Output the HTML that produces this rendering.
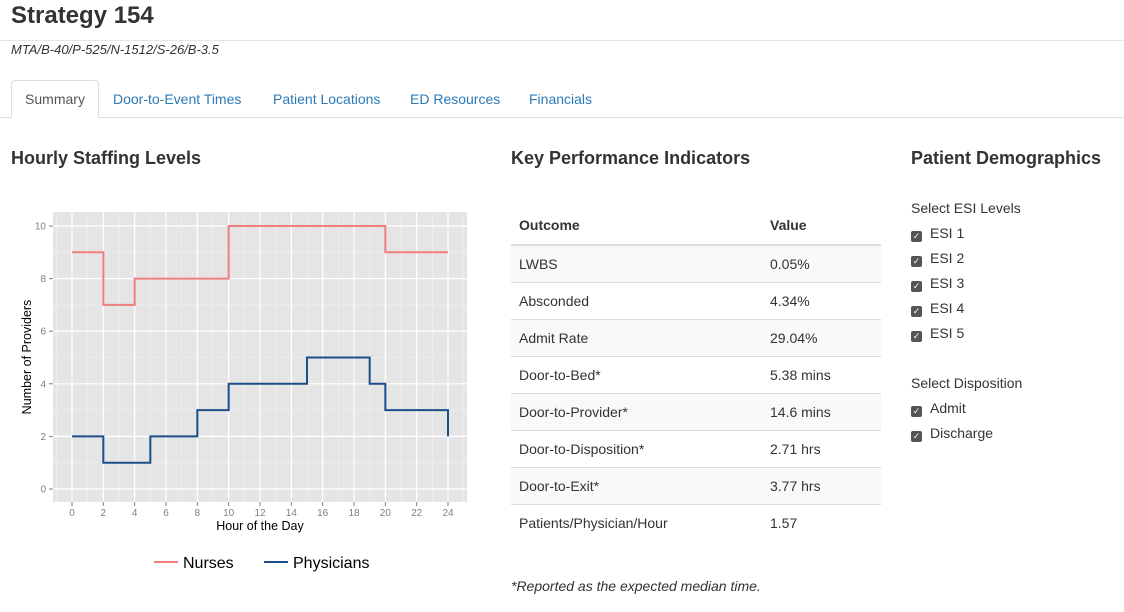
<!DOCTYPE html>
<html><head><meta charset="utf-8"><style>
body{margin:0;width:1124px;height:612px;background:#fff;font-family:"Liberation Sans",sans-serif;color:#333;position:relative;overflow:hidden}
.a{position:absolute}
.tab{position:absolute;top:81px;height:36px;line-height:36px;font-size:14px;color:#2a7ab8}
h3{position:absolute;margin:0;font-size:18px;font-weight:bold;color:#333}
.row{position:absolute;left:511px;width:370px;height:37px;border-top:1px solid #ddd;font-size:14px;line-height:37px}
.row span{position:absolute;left:8px}.row b{position:absolute;left:259px;font-weight:normal}
.cb{position:absolute;left:911px;font-size:14px}
.cb i{display:inline-block;width:11px;height:11px;background:#555;border-radius:2px;margin-right:8px;vertical-align:-1px;color:#fff;font-size:9px;line-height:11px;text-align:center;font-style:normal}
</style></head><body>
<div class="a" style="left:11px;top:2px;font-size:24px;font-weight:bold">Strategy 154</div>
<div class="a" style="left:0;top:40px;width:1124px;border-top:1px solid #e5e5e5"></div>
<div class="a" style="left:11px;top:42px;font-size:13px;font-style:italic">MTA/B-40/P-525/N-1512/S-26/B-3.5</div>
<div class="a" style="left:0;top:117px;width:1124px;border-top:1px solid #ddd"></div>
<div class="tab" style="left:11px;width:86px;text-align:center;color:#555;background:#fff;border:1px solid #ddd;border-bottom:1px solid #fff;border-radius:4px 4px 0 0;top:80px">Summary</div>
<div class="tab" style="left:113px">Door-to-Event Times</div>
<div class="tab" style="left:273px">Patient Locations</div>
<div class="tab" style="left:410px">ED Resources</div>
<div class="tab" style="left:529px">Financials</div>

<h3 style="left:11px;top:148px">Hourly Staffing Levels</h3>
<h3 style="left:511px;top:148px">Key Performance Indicators</h3>
<h3 style="left:911px;top:148px">Patient Demographics</h3>

<svg class="a" style="left:0;top:190px" width="480" height="400">
<g id="plot" transform="translate(0,-190)"></g>
</svg>
<script>
const hours=[0,1,2,3,4,5,6,7,8,9,10,11,12,13,14,15,16,17,18,19,20,21,22,23,24];
const nurses=[9,9,7,7,8,8,8,8,8,8,10,10,10,10,10,10,10,10,10,10,9,9,9,9,9];
const physicians=[2,2,1,1,1,2,2,2,3,3,4,4,4,4,4,5,5,5,5,4,3,3,3,3,2];
const xTicks=[0,2,4,6,8,10,12,14,16,18,20,22,24];
const yTicks=[0,2,4,6,8,10];
const NS="http://www.w3.org/2000/svg";
const g=document.getElementById('plot');
const X=h=>72+h*(448-72)/24, Y=v=>489-v*(489-226)/10;
const L=53,R=467,T=212,B=502;
function el(t,a,p){const e=document.createElementNS(NS,t);for(const k in a)e.setAttribute(k,a[k]);(p||g).appendChild(e);return e;}
const bg=el('rect',{x:L,y:T,width:R-L,height:B-T,fill:'#e5e5e5'});


for(let h=-1;h<=25;h+=2){const x=X(h);if(x>L&&x<R)el('line',{x1:x,x2:x,y1:T,y2:B,stroke:'#f2f2f2','stroke-width':0.6});}
for(let v=-1;v<=11;v+=2){const y=Y(v);if(y>T&&y<B)el('line',{x1:L,x2:R,y1:y,y2:y,stroke:'#f2f2f2','stroke-width':0.6});}
xTicks.forEach(h=>{const x=X(h);el('line',{x1:x,x2:x,y1:T,y2:B,stroke:'#fff','stroke-width':1.2});el('line',{x1:x,x2:x,y1:B,y2:B+4,stroke:'#7f7f7f'});
const t=el('text',{x:x,y:B+14,'text-anchor':'middle','font-size':10,fill:'#7f7f7f'});t.textContent=h;

});
yTicks.forEach(v=>{const y=Y(v);el('line',{x1:L,x2:R,y1:y,y2:y,stroke:'#fff','stroke-width':1.2});el('line',{x1:L-4,x2:L,y1:y,y2:y,stroke:'#7f7f7f'});
const t=el('text',{x:L-7,y:y+3.5,'text-anchor':'end','font-size':10,fill:'#7f7f7f'});t.textContent=v;

});
function step(vals,col,name){let d='M'+X(hours[0])+','+Y(vals[0]);for(let i=1;i<hours.length;i++){d+=' H'+X(hours[i])+' V'+Y(vals[i]);}
const p=el('path',{d:d,fill:'none',stroke:col,'stroke-width':2});

}
step(nurses,'#f08080','nurses-line');
step(physicians,'#1c4f8a','physicians-line');
const xt=el('text',{x:260,y:530,'text-anchor':'middle','font-size':12.5,fill:'#000'});xt.textContent='Hour of the Day';


const yt=el('text',{x:0,y:0,'text-anchor':'middle','font-size':12.5,fill:'#000',transform:'translate(31,357) rotate(-90)'});yt.textContent='Number of Providers';


const lg=[['Nurses','#f08080',154],['Physicians','#1c4f8a',264]];
lg.forEach(([n,c,x])=>{el('line',{x1:x,x2:x+24,y1:562,y2:562,stroke:c,'stroke-width':2});
const t=el('text',{x:x+29,y:568,'font-size':16,fill:'#000'});t.textContent=n;

});
</script>

<div>
<div class="row" style="top:207px;border-top:none;border-bottom:2px solid #ddd;font-weight:bold"><span>Outcome</span><b style="font-weight:bold">Value</b></div>
<div class="row" style="top:245px;background:#f9f9f9"><span>LWBS</span><b>0.05%</b></div>
<div class="row" style="top:282px"><span>Absconded</span><b>4.34%</b></div>
<div class="row" style="top:319px;background:#f9f9f9"><span>Admit Rate</span><b>29.04%</b></div>
<div class="row" style="top:356px"><span>Door-to-Bed*</span><b>5.38 mins</b></div>
<div class="row" style="top:393px;background:#f9f9f9"><span>Door-to-Provider*</span><b>14.6 mins</b></div>
<div class="row" style="top:430px"><span>Door-to-Disposition*</span><b>2.71 hrs</b></div>
<div class="row" style="top:467px;background:#f9f9f9"><span>Door-to-Exit*</span><b>3.77 hrs</b></div>
<div class="row" style="top:504px"><span>Patients/Physician/Hour</span><b>1.57</b></div>
</div>
<div class="a" style="left:511px;top:578px;font-size:14px;font-style:italic">*Reported as the expected median time.</div>

<div class="a" style="left:911px;top:200px;font-size:14px">Select ESI Levels</div>
<div class="cb" style="top:225px"><i>✓</i>ESI 1</div>
<div class="cb" style="top:250px"><i>✓</i>ESI 2</div>
<div class="cb" style="top:275px"><i>✓</i>ESI 3</div>
<div class="cb" style="top:300px"><i>✓</i>ESI 4</div>
<div class="cb" style="top:325px"><i>✓</i>ESI 5</div>
<div class="a" style="left:911px;top:375px;font-size:14px">Select Disposition</div>
<div class="cb" style="top:400px"><i>✓</i>Admit</div>
<div class="cb" style="top:425px"><i>✓</i>Discharge</div>
</body></html>
